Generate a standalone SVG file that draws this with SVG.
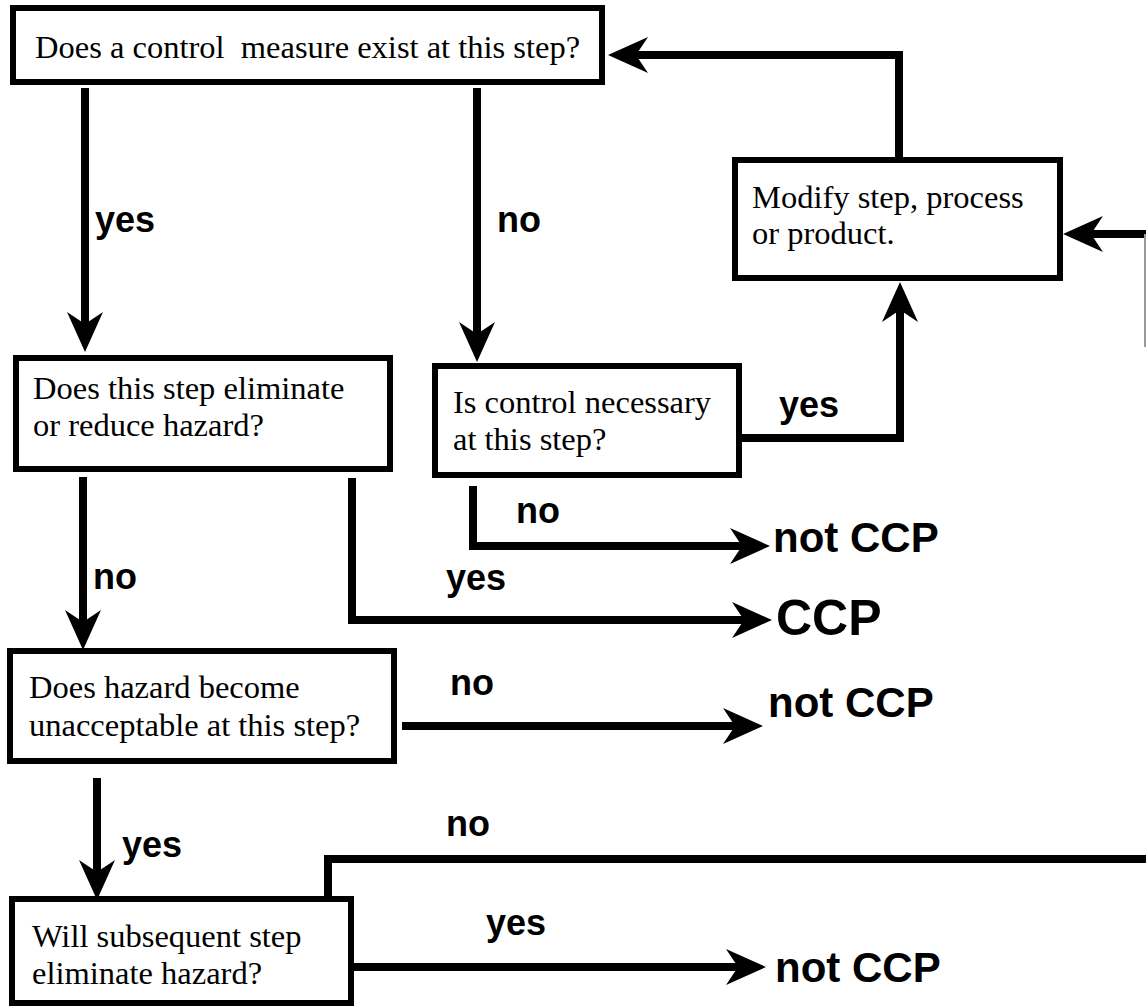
<svg xmlns="http://www.w3.org/2000/svg" width="1146" height="1008" viewBox="0 0 1146 1008">
<style>
.box{fill:#fff;stroke:#000;stroke-width:6}
.q{font-family:"Liberation Serif","Times New Roman",serif;font-size:32.5px;fill:#000}
.lbl{font-family:"Liberation Sans",Arial,sans-serif;font-weight:bold;font-size:36px;fill:#000}
.out{font-family:"Liberation Sans",Arial,sans-serif;font-weight:bold;font-size:42px;fill:#000}
.con{fill:none;stroke:#000;stroke-width:8;stroke-linejoin:miter}
</style>
<defs>
<marker id="ah" viewBox="0 0 40 36" refX="12" refY="18" markerWidth="40" markerHeight="36" markerUnits="userSpaceOnUse" orient="auto">
<path d="M0,0 L40,18 L0,36 L12,18 Z" fill="#000"/>
</marker>
</defs>
<rect width="1146" height="1008" fill="#fff"/>
<g id="connectors">
<path class="con" d="M85,88 V324" marker-end="url(#ah)"/>
<path class="con" d="M477,88 V334" marker-end="url(#ah)"/>
<path class="con" d="M742,438 H900 V310" marker-end="url(#ah)"/>
<path class="con" d="M899,160 V55 H636" marker-end="url(#ah)"/>
<path class="con" d="M1146,234 H1091" marker-end="url(#ah)"/>
<path d="M1145,234 V347" fill="none" stroke="#999" stroke-width="2"/>
<path class="con" d="M473,486 V546 H742" marker-end="url(#ah)"/>
<path class="con" d="M352,478 V620 H744" marker-end="url(#ah)"/>
<path class="con" d="M83,477 V622" marker-end="url(#ah)"/>
<path class="con" d="M402,726 H735" marker-end="url(#ah)"/>
<path class="con" d="M97,778 V872" marker-end="url(#ah)"/>
<path class="con" d="M328,912 V859 H1146"/>
<path class="con" d="M354,967 H738" marker-end="url(#ah)"/>
</g>
<g id="labels">
<text class="lbl" x="95" y="232">yes</text>
<text class="lbl" x="497" y="232">no</text>
<text class="lbl" x="779" y="417">yes</text>
<text class="lbl" x="516" y="523">no</text>
<text class="lbl" x="93" y="589">no</text>
<text class="lbl" x="446" y="590">yes</text>
<text class="lbl" x="450" y="695">no</text>
<text class="lbl" x="122" y="857">yes</text>
<text class="lbl" x="446" y="836">no</text>
<text class="lbl" x="486" y="935">yes</text>
</g>
<g id="n1">
<rect class="box" x="13" y="8" width="589" height="74"/>
<text class="q" x="35" y="58" xml:space="preserve">Does a control  measure exist at this step?</text>
</g>
<g id="n2">
<rect class="box" x="16" y="358" width="374" height="111"/>
<text class="q" x="33" y="399">Does this step eliminate</text>
<text class="q" x="33" y="436">or reduce hazard?</text>
</g>
<g id="n3">
<rect class="box" x="435" y="366" width="304" height="109"/>
<text class="q" x="453" y="413">Is control necessary</text>
<text class="q" x="453" y="450">at this step?</text>
</g>
<g id="n4">
<rect class="box" x="735" y="160" width="325" height="118"/>
<text class="q" x="752" y="208">Modify step, process</text>
<text class="q" x="752" y="244">or product.</text>
</g>
<g id="n5">
<rect class="box" x="10" y="651" width="384" height="110"/>
<text class="q" x="29" y="698">Does hazard become</text>
<text class="q" x="29" y="736">unacceptable at this step?</text>
</g>
<g id="n6">
<rect class="box" x="12" y="899" width="339" height="104"/>
<text class="q" x="32" y="947">Will subsequent step</text>
<text class="q" x="32" y="984">eliminate hazard?</text>
</g>
<g id="outcomes">
<text class="out" x="773" y="552">not CCP</text>
<text class="out" x="776" y="635" style="font-size:50px">CCP</text>
<text class="out" x="768" y="717">not CCP</text>
<text class="out" x="775" y="982">not CCP</text>
</g>
</svg>
